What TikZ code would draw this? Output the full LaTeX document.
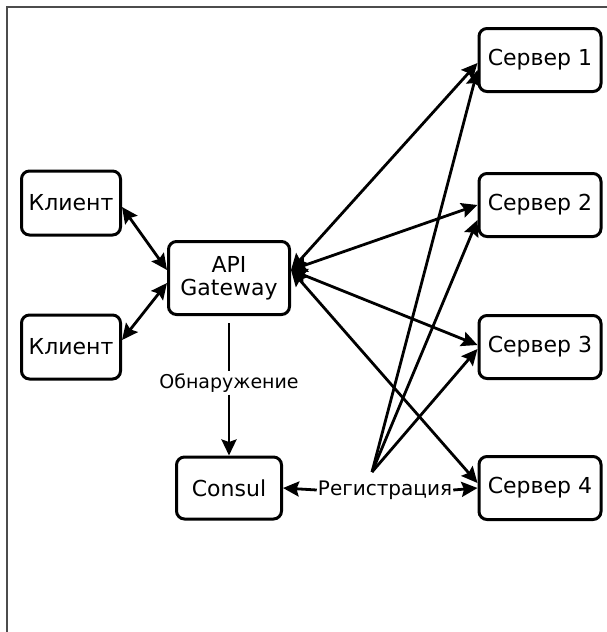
\documentclass[tikz,border=0pt]{standalone}
\usepackage{fontspec}
\setmainfont{DejaVu Sans}
\usetikzlibrary{arrows.meta}
\begin{document}
\begin{tikzpicture}[x=1pt,y=-1pt,
  box/.style={draw=black, line width=3pt, rounded corners=8pt, fill=white, font=\fontsize{22}{25}\selectfont, align=center, inner sep=2pt},
  tip/.tip={Stealth[length=16pt,width=15pt,inset=2.5pt]},
  conn/.style={line width=2.8pt, tip-tip},
  oneway/.style={line width=2.8pt, -tip},
  lbl/.style={font=\fontsize{19}{22}\selectfont, inner sep=2pt, fill=white}
]
\useasboundingbox (0,0) rectangle (607,632);
\fill[white] (0,0) rectangle (607,632);
\draw[gray!60!black, line width=1.5pt] (607,7) -- (7,7) -- (7,632);

\node[box, minimum width=99pt, minimum height=64pt] (c1) at (71,203) {Клиент};
\node[box, minimum width=99pt, minimum height=64pt] (c2) at (71,347) {Клиент};
\node[box, minimum width=121pt, minimum height=73pt] (api) at (229,278) {API\\[-2pt]Gateway};
\node[box, minimum width=105pt, minimum height=62pt] (consul) at (229,488) {Consul};
\node[box, minimum width=122pt, minimum height=63pt] (s1) at (540,60) {Сервер 1};
\node[box, minimum width=122pt, minimum height=63pt] (s2) at (540,205) {Сервер 2};
\node[box, minimum width=122pt, minimum height=63pt] (s3) at (540,347) {Сервер 3};
\node[box, minimum width=122pt, minimum height=63pt] (s4) at (540,488) {Сервер 4};

\node[lbl] (disc) at (229,383) {Обнаружение};
\node[lbl, inner sep=1pt, font=\fontsize{20}{23}\selectfont] (reg) at (385,490) {Регистрация};
\coordinate (regtop) at (372,472);

% clients
\draw[conn] ([yshift=-4pt]c1.east) -- ([yshift=8pt]api.west);
\draw[conn] ([yshift=7pt]c2.east) -- ([yshift=-5pt]api.west);

% api - servers
\draw[conn] ([yshift=8pt]api.east) -- ([yshift=-3pt]s1.west);
\draw[conn] ([yshift=8pt]api.east) -- (s2.west);
\draw[conn] ([yshift=8pt]api.east) -- ([yshift=2pt]s3.west);
\draw[conn] ([yshift=8pt]api.east) -- ([yshift=5pt]s4.west);

% discovery
\draw[line width=2.8pt, shorten <=7pt] (api.south) -- (disc.north);
\draw[oneway] (disc.south) -- (consul.north);

% registration
\draw[oneway] (reg.west) -- (consul.east);
\draw[oneway] (reg.east) -- (s4.west);
\draw[oneway] (regtop) -- ([yshift=-10pt]s1.west);
\draw[oneway] (regtop) -- ([yshift=-15pt]s2.west);
\draw[oneway] (regtop) -- ([yshift=-2pt]s3.west);
\end{tikzpicture}
\end{document}
